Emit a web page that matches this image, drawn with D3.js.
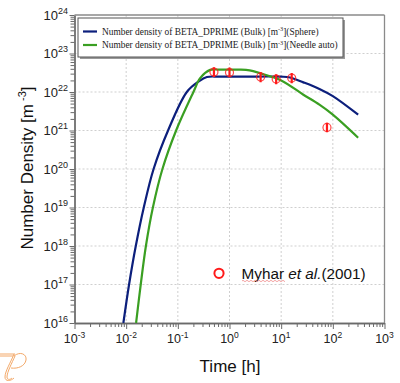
<!DOCTYPE html>
<html><head><meta charset="utf-8">
<script src="https://cdn.jsdelivr.net/npm/d3@7"></script>
<style>html,body{margin:0;padding:0;background:#fff;}svg{display:block;}</style>
</head><body>
<script>
// ---- data ----
const sphereTime = [0.00883, 0.01138, 0.01535, 0.02193, 0.03396, 0.06471, 0.1493, 0.251, 0.365, 0.631, 2.0, 10, 14.8, 26.9, 55, 100, 309];
const sphereN    = [1e16, 1e17, 1e18, 1e19, 1e20, 1e21, 1e22, 1.86e22, 2.45e22, 2.51e22, 2.51e22, 2.5e22, 2.38e22, 1.78e22, 1.2e22, 7.8e21, 2.57e21];
const needleTime = [0.01556, 0.01914, 0.0241, 0.03289, 0.05035, 0.09268, 0.2004, 0.2704, 0.4227, 0.631, 1.585, 2.455, 3.85, 10, 26.9, 55, 100, 309];
const needleN    = [1e16, 1e17, 1e18, 1e19, 1e20, 1e21, 1e22, 2.29e22, 3.76e22, 3.8e22, 3.8e22, 3.63e22, 3.09e22, 2.0e22, 8.5e21, 4.68e21, 2.57e21, 6.46e20];
const expTime = [0.5, 1, 4, 8, 16, 77];
const expN    = [3.3e22, 3.2e22, 2.45e22, 2.17e22, 2.3e22, 1.2e21];
const expLow  = [2.45e22, 2.4e22, 1.8e22, 1.6e22, 1.7e22, 0.9e21];
const expHigh = [4.4e22, 4.3e22, 3.3e22, 2.9e22, 3.1e22, 1.6e21];
const xTickExps = [-3, -2, -1, 0, 1, 2, 3];
const yTickExps = [16, 17, 18, 19, 20, 21, 22, 23, 24];
const seriesNames = ["Number density of BETA_DPRIME (Bulk) [m", "Number density of BETA_DPRIME (Bulk) [m"];
const seriesSuffix = ["](Sphere)", "](Needle auto)"];
const expLabel = ["Myhar ", "et al.", "(2001)"];
const xTitle = "Time [h]";
const yTitle = "Number Density [m";

// ---- layout ----
const W = 400, H = 383;
const L = 74.5, R = 384.5, T = 15, B = 323;
const blue = "#0c1f7c", green = "#3a9f22", red = "#ff1a1a";
const axisCol = "#6a6a6a";

const svg = d3.select("body").append("svg").attr("width", W).attr("height", H);
const x = d3.scaleLog().domain([1e-3, 1e3]).range([L, R]);
const y = d3.scaleLog().domain([1e16, 1e24]).range([B, T]);

// grid
const g = svg.append("g");
xTickExps.slice(1, -1).forEach(e => {
  g.append("line").attr("x1", x(Math.pow(10, e))).attr("x2", x(Math.pow(10, e)))
    .attr("y1", T).attr("y2", B).attr("stroke", "#cfcfcf").attr("stroke-dasharray", "2,2");
});
yTickExps.slice(1, -1).forEach(e => {
  g.append("line").attr("y1", y(Math.pow(10, e))).attr("y2", y(Math.pow(10, e)))
    .attr("x1", L).attr("x2", R).attr("stroke", "#cfcfcf").attr("stroke-dasharray", "2,2");
});

// minor ticks
const xMinor = [], yMinor = [];
for (let e = -3; e < 3; e++) for (let k = 2; k <= 9; k++) xMinor.push(k * Math.pow(10, e));
for (let e = 16; e < 24; e++) for (let k = 2; k <= 9; k++) yMinor.push(k * Math.pow(10, e));
const xMaj = xTickExps.map(e => Math.pow(10, e));
const yMaj = yTickExps.map(e => Math.pow(10, e));

function styleAxis(sel) {
  sel.selectAll("path").attr("stroke", axisCol).attr("stroke-width", 1.3);
  sel.selectAll("line").attr("stroke", axisCol);
  sel.selectAll("text").remove();
}
svg.append("g").attr("transform", `translate(0,${B})`)
  .call(d3.axisBottom(x).tickValues(xMinor).tickSize(4).tickSizeOuter(0).tickFormat("")).call(styleAxis);
svg.append("g").attr("transform", `translate(0,${B})`)
  .call(d3.axisBottom(x).tickValues(xMaj).tickSize(6).tickSizeOuter(0).tickFormat("")).call(styleAxis);
svg.append("g").attr("transform", `translate(${L},0)`)
  .call(d3.axisLeft(y).tickValues(yMinor).tickSize(4).tickSizeOuter(0).tickFormat("")).call(styleAxis);
svg.append("g").attr("transform", `translate(${L},0)`)
  .call(d3.axisLeft(y).tickValues(yMaj).tickSize(5).tickSizeOuter(0).tickFormat("")).call(styleAxis);

// frame top/right
svg.append("line").attr("x1", L).attr("x2", R).attr("y1", T).attr("y2", T).attr("stroke", "#8a8a8a").attr("stroke-width", 1.3);
svg.append("line").attr("x1", R).attr("x2", R).attr("y1", T).attr("y2", B).attr("stroke", "#8a8a8a").attr("stroke-width", 1.3);

// tick labels
const font = "Liberation Sans, Arial, sans-serif";
xTickExps.forEach(e => {
  const t = svg.append("text").attr("x", x(Math.pow(10, e))).attr("y", 343)
    .attr("text-anchor", "middle").attr("font-family", font).attr("font-size", 12.5).attr("fill", "#222");
  t.append("tspan").text("10");
  t.append("tspan").attr("dy", -5.5).attr("font-size", 8.5).text(String(e));
});
yTickExps.forEach(e => {
  const t = svg.append("text").attr("x", 68).attr("y", y(Math.pow(10, e)) + 4.5)
    .attr("text-anchor", "end").attr("font-family", font).attr("font-size", 13).attr("fill", "#222");
  t.append("tspan").text("10");
  t.append("tspan").attr("dy", -6).attr("font-size", 9).text(String(e));
});

// axis titles
svg.append("text").attr("x", 230).attr("y", 371.5).attr("text-anchor", "middle")
  .attr("font-family", font).attr("font-size", 17).attr("fill", "#111").text(xTitle);
const yt = svg.append("text").attr("transform", "translate(33,168) rotate(-90)").attr("text-anchor", "middle")
  .attr("font-family", font).attr("font-size", 17).attr("fill", "#111");
yt.append("tspan").text(yTitle);
yt.append("tspan").attr("dy", -7).attr("font-size", 11).text(" -3");
yt.append("tspan").attr("dy", 7).text("]");

// curves
svg.append("clipPath").attr("id", "clip").append("rect").attr("x", L).attr("y", T).attr("width", R - L).attr("height", B - T);
const line = d3.line().x(d => x(d[0])).y(d => y(d[1])).curve(d3.curveCatmullRom.alpha(0.5));
const plot = svg.append("g").attr("clip-path", "url(#clip)");
plot.append("path").attr("d", line(sphereTime.map((t, i) => [t, sphereN[i]])))
  .attr("fill", "none").attr("stroke", blue).attr("stroke-width", 2.2);
plot.append("path").attr("d", line(needleTime.map((t, i) => [t, needleN[i]])))
  .attr("fill", "none").attr("stroke", green).attr("stroke-width", 2.2);

// experimental points
expTime.forEach((t, i) => {
  plot.append("line").attr("x1", x(t)).attr("x2", x(t)).attr("y1", y(expLow[i])).attr("y2", y(expHigh[i]))
    .attr("stroke", red).attr("stroke-width", 2.2);
  plot.append("circle").attr("cx", x(t)).attr("cy", y(expN[i])).attr("r", 4)
    .attr("fill", "none").attr("stroke", red).attr("stroke-width", 1.2).attr("opacity", 0.8);
});

// legend box
const lg = svg.append("g");
lg.append("rect").attr("x", 80).attr("y", 20).attr("width", 265).attr("height", 39).attr("fill", "#9a9a9a");
lg.append("rect").attr("x", 78).attr("y", 18).attr("width", 265).attr("height", 39).attr("fill", "#fff").attr("stroke", "#555").attr("stroke-width", 1);
[blue, green].forEach((c, i) => {
  const yy = 31.5 + i * 13.5;
  lg.append("line").attr("x1", 83).attr("x2", 97).attr("y1", yy).attr("y2", yy).attr("stroke", c).attr("stroke-width", 2.2);
  const t = lg.append("text").attr("x", 102).attr("y", yy + 3.3).attr("font-family", "Liberation Serif, Times New Roman, serif")
    .attr("font-size", 9.4).attr("fill", "#222");
  t.append("tspan").text(seriesNames[i]);
  t.append("tspan").attr("dy", -3.5).attr("font-size", 6.2).text("-3");
  t.append("tspan").attr("dy", 3.5).text(seriesSuffix[i]);
});

// experimental legend
svg.append("circle").attr("cx", 219).attr("cy", 273.3).attr("r", 4.6).attr("fill", "none").attr("stroke", red).attr("stroke-width", 2);
const et = svg.append("text").attr("x", 241.5).attr("y", 279.3).attr("font-family", font).attr("font-size", 15.3).attr("fill", "#111");
et.append("tspan").text(expLabel[0]);
et.append("tspan").attr("font-style", "italic").text(expLabel[1]);
et.append("tspan").text(expLabel[2]);
// spell-check squiggle under the first word
const sq = d3.path();
sq.moveTo(242, 281);
for (let xx = 242; xx < 285; xx += 2) sq.lineTo(xx + 1, (xx / 2) % 2 ? 280.3 : 281.7);
svg.append("path").attr("d", sq.toString()).attr("fill", "none").attr("stroke", "#f19a9a").attr("stroke-width", 0.9);

// logo
const logo = svg.append("g").attr("fill", "none").attr("stroke", "#f3a868").attr("stroke-width", 1);
logo.append("path").attr("d", "M0,354 L15,354 M0,356 L13,356");
logo.append("path").attr("d", "M14,354 C11,362 5,371 5,377 C5,382 11,381 14,378 M15,356 C12,363 7,372 7,377 C7,380 10,380 12,378");
logo.append("path").attr("d", "M14,356 C20,351 27,354 26,360 C25,366 18,369 11,368");
</script>
</body></html>
